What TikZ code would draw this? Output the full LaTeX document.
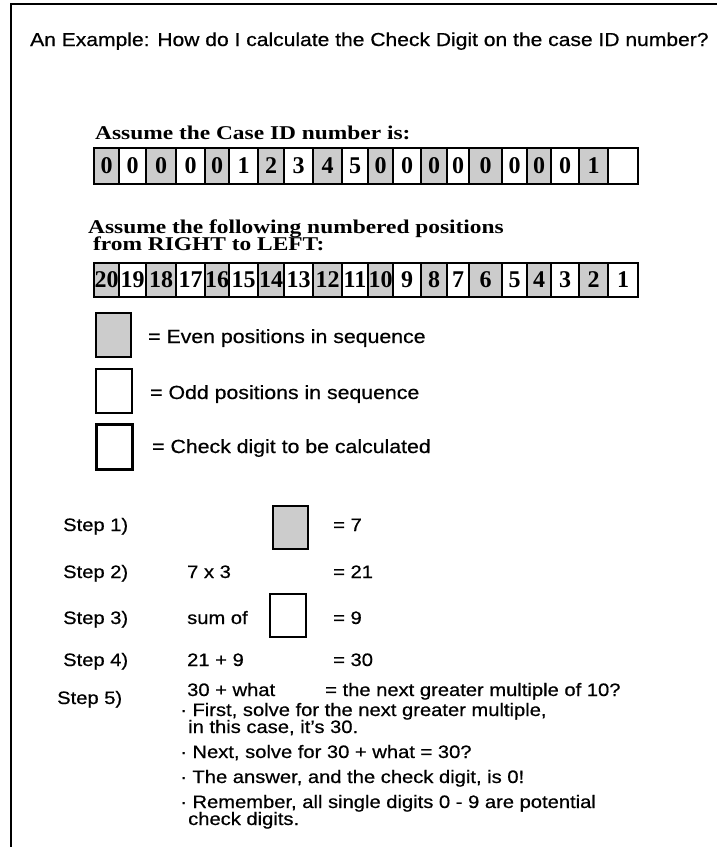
\documentclass[tikz,border=0pt]{standalone}
\usepackage{fontspec}
\setmainfont{Liberation Sans}[FakeStretch=1.12,FakeBold=0.6]
\newfontfamily\serifface{Liberation Serif}[FakeStretch=1.2]
\newfontfamily\digitface{Liberation Serif}
\definecolor{cellgray}{RGB}{204,204,204}
\begin{document}
\begin{tikzpicture}[x=1pt,y=-1pt,
  cellbox/.style={draw, line width=1.4pt, inner sep=0pt, font=\digitface\bfseries\fontsize{24}{24}\selectfont},
  hd/.style={anchor=base west, inner sep=0pt, font=\serifface\bfseries\fontsize{19.5}{19.5}\selectfont},
  sans/.style={anchor=base west, inner sep=0pt, font=\fontsize{18}{18}\selectfont},
  leg/.style={anchor=base west, inner sep=0pt, font=\fontsize{19}{19}\selectfont},
  legbox/.style={draw, line width=1.4pt, inner sep=0pt}]
\useasboundingbox (0,0) rectangle (717,847);
\draw[line width=2pt] (10.5,847) -- (10.5,3.5) -- (717,3.5);
\node[anchor=base west, inner sep=0pt, font=\fontsize{18.8}{18.8}\selectfont] (title) at (30,46) {An Example: How do I calculate the Check Digit on the case ID number?};
\node[hd] (h1) at (95,139) {Assume the Case ID number is:};
\foreach \a/\b/\t/\f [count=\i] in {94/119/0/cellgray,119/146/0/white,146/176/0/cellgray,176/205/0/white,205/229/0/cellgray,229/258/1/white,258/284/2/cellgray,284/313/3/white,313/342/4/cellgray,342/368/5/white,368/393/0/cellgray,393/421/0/white,421/447/0/cellgray,447/469/0/white,469/502/0/cellgray,502/527/0/white,527/551/0/cellgray,551/579/0/white,579/608/1/cellgray,608/638//white}
  \node[cellbox, fill=\f, minimum width={(\b-\a)*1pt}, minimum height=36pt] (ra\i) at ({(\a+\b)/2},166) {\t};
\node[hd] (h2a) at (88,233) {Assume the following numbered positions};
\node[hd] (h2b) at (93,250) {from RIGHT to LEFT:};
\foreach \a/\b/\t/\f [count=\i] in {94/119/20/cellgray,119/146/19/white,146/176/18/cellgray,176/205/17/white,205/229/16/cellgray,229/258/15/white,258/284/14/cellgray,284/313/13/white,313/342/12/cellgray,342/368/11/white,368/393/10/cellgray,393/421/9/white,421/447/8/cellgray,447/469/7/white,469/502/6/cellgray,502/527/5/white,527/551/4/cellgray,551/579/3/white,579/608/2/cellgray,608/638/1/white}
  \node[cellbox, fill=\f, minimum width={(\b-\a)*1pt}, minimum height=34pt] (rb\i) at ({(\a+\b)/2},280) {\t};
\node[legbox, fill=cellgray, minimum width=35pt, minimum height=44pt] (lega) at (113.5,335) {};
\node[leg] (legat) at (148,343) {= Even positions in sequence};
\node[legbox, minimum width=36pt, minimum height=44pt] (legb) at (114,391) {};
\node[leg] (legbt) at (150,399) {= Odd positions in sequence};
\node[legbox, line width=3pt, minimum width=36pt, minimum height=45pt] (legc) at (114.5,447) {};
\node[leg] (legct) at (152,453) {= Check digit to be calculated};
\node[sans] (s1) at (63,531) {Step 1)};
\node[legbox, fill=cellgray, minimum width=35pt, minimum height=43pt] (s1box) at (290.5,527.5) {};
\node[sans] (s1r) at (333,531) {= 7};
\node[sans] (s2) at (63,578) {Step 2)};
\node[sans] (s2m) at (187,578) {7 x 3};
\node[sans] (s2r) at (333,578) {= 21};
\node[sans] (s3) at (63,624) {Step 3)};
\node[sans] (s3m) at (187,624) {sum of};
\node[legbox, minimum width=36pt, minimum height=43pt] (s3box) at (288,615.5) {};
\node[sans] (s3r) at (333,624) {= 9};
\node[sans] (s4) at (63,666) {Step 4)};
\node[sans] (s4m) at (187,666) {21 + 9};
\node[sans] (s4r) at (333,666) {= 30};
\node[sans] (s5) at (57,704) {Step 5)};
\node[sans] (s5m) at (187,696) {30 + what};
\node[sans] (s5r) at (325,696) {= the next greater multiple of 10?};
\node[sans] (b1) at (180,716) {· First, solve for the next greater multiple,};
\node[sans] (b1b) at (188,733) {in this case, it's 30.};
\node[sans] (b2) at (180,758) {· Next, solve for 30 + what = 30?};
\node[sans] (b3) at (180,783) {· The answer, and the check digit, is 0!};
\node[sans] (b4) at (180,808) {· Remember, all single digits 0 - 9 are potential};
\node[sans] (b4b) at (188,825) {check digits.};
\end{tikzpicture}
\end{document}
